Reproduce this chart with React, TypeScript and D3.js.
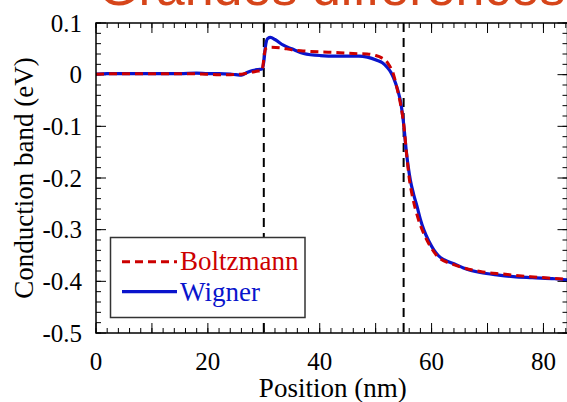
import React from "react";
import * as d3 from "d3";

const W = 567;
const H = 402;

const titleText = "Grandes différences";
const xLabel = "Position (nm)";
const yLabel = "Conduction band (eV)";

const xTickLabels = [0, 20, 40, 60, 80];
const yTickLabels = [0.1, 0, -0.1, -0.2, -0.3, -0.4, -0.5];
const barrierPositions = [30, 55];

const seriesNames = ["Boltzmann", "Wigner"];

const wignerX = [0, 2, 5, 10, 15, 18, 20, 22, 24, 25, 26, 27, 28, 29, 29.7, 30.0, 30.3, 30.7, 31.2, 32.0, 33.5, 35.0, 37.1, 40.1, 43, 45.5, 47, 48.5, 50.2, 51.2, 52.0, 52.7, 53.2, 53.9, 54.5, 55.0, 55.5, 56.2, 56.8, 57.4, 58.0, 58.6, 59.5, 60.4, 61.2, 62.2, 64.0, 65.7, 68.7, 72.0, 74.6, 78.0, 82.0, 84.3];
const wignerY = [0.001, 0.002, 0.002, 0.002, 0.002, 0.003, 0.002, 0.002, 0.001, 0.0, -0.001, 0.004, 0.008, 0.010, 0.011, 0.025, 0.055, 0.070, 0.072, 0.068, 0.057, 0.050, 0.041, 0.037, 0.036, 0.036, 0.036, 0.034, 0.028, 0.023, 0.015, 0.005, -0.006, -0.028, -0.055, -0.095, -0.150, -0.204, -0.232, -0.255, -0.280, -0.300, -0.322, -0.339, -0.350, -0.358, -0.366, -0.374, -0.383, -0.388, -0.391, -0.393, -0.395, -0.397];

const boltzX = [0, 5, 10, 15, 20, 22, 24, 26, 27, 28, 29, 29.7, 30.0, 30.3, 31, 33, 35, 37, 40, 43, 46, 48.5, 50, 51, 52.2, 53.2, 53.9, 54.5, 55.0, 55.5, 56.0, 56.7, 57.5, 58.7, 59.6, 61.1, 64.1, 68.7, 72.8, 77.7, 84.3];
const boltzY = [0.001, 0.002, 0.002, 0.002, 0.001, 0.0, 0.0, 0.001, 0.003, 0.005, 0.007, 0.008, 0.030, 0.050, 0.053, 0.052, 0.048, 0.046, 0.044, 0.043, 0.041, 0.040, 0.037, 0.033, 0.022, 0.0, -0.030, -0.060, -0.095, -0.150, -0.200, -0.242, -0.275, -0.310, -0.329, -0.352, -0.368, -0.381, -0.386, -0.391, -0.396];

const plot = { left: 96, right: 567.5, top: 23, bottom: 333 };

export default function App() {
  const x = d3.scaleLinear().domain([0, 84.3]).range([plot.left, plot.right]);
  const y = d3.scaleLinear().domain([-0.5, 0.1]).range([plot.bottom, plot.top]);

  const line = d3
    .line<[number, number]>()
    .x((d) => x(d[0]))
    .y((d) => y(d[1]))
    .curve(d3.curveMonotoneX);

  const wigner: [number, number][] = wignerX.map((v, i) => [v, wignerY[i]]);
  const boltz: [number, number][] = boltzX.map((v, i) => [v, boltzY[i]]);

  const xMinor = d3.range(0, 84.3, 2);
  const xMajor = d3.range(0, 84.3, 10);
  const yMinor = d3.range(-0.5, 0.1001, 0.02);
  const yMajor = d3.range(-0.5, 0.1001, 0.1);

  const serifStyle = { fontFamily: "Liberation Serif, Tinos, Times New Roman, DejaVu Serif, serif" };
  const tickColor = "#000";

  return (
    <svg width={W} height={H} style={{ position: "absolute", left: 0, top: 0 }}>
      <rect x={0} y={0} width={W} height={H} fill="#fff" />
      <text
        x={98}
        y={5}
        style={{ fontFamily: "Liberation Sans, Arimo, Arial, sans-serif" }}
        fontSize={52}
        fill="#d6451a"
      >
        {titleText}
      </text>

      <clipPath id="plotclip">
        <rect x={plot.left} y={plot.top} width={plot.right - plot.left} height={plot.bottom - plot.top} />
      </clipPath>

      <g stroke={tickColor} strokeWidth={1}>
        {xMinor.map((v) => (
          <g key={"xm" + v}>
            <line x1={x(v)} x2={x(v)} y1={plot.bottom} y2={plot.bottom - 5} />
            <line x1={x(v)} x2={x(v)} y1={plot.top} y2={plot.top + 5} />
          </g>
        ))}
        {xMajor.map((v) => (
          <g key={"xM" + v}>
            <line x1={x(v)} x2={x(v)} y1={plot.bottom} y2={plot.bottom - 10} />
            <line x1={x(v)} x2={x(v)} y1={plot.top} y2={plot.top + 10} />
          </g>
        ))}
        {yMinor.map((v, i) => (
          <g key={"ym" + i}>
            <line x1={plot.left} x2={plot.left + 5} y1={y(v)} y2={y(v)} />
            <line x1={plot.right} x2={plot.right - 5} y1={y(v)} y2={y(v)} />
          </g>
        ))}
        {yMajor.map((v, i) => (
          <g key={"yM" + i}>
            <line x1={plot.left} x2={plot.left + 10} y1={y(v)} y2={y(v)} />
            <line x1={plot.right} x2={plot.right - 10} y1={y(v)} y2={y(v)} />
          </g>
        ))}
      </g>

      {barrierPositions.map((p) => (
        <line
          key={"b" + p}
          x1={x(p)}
          x2={x(p)}
          y1={plot.top}
          y2={plot.bottom}
          stroke="#000"
          strokeWidth={2}
          strokeDasharray="9,6"
        />
      ))}

      <g clipPath="url(#plotclip)">
        <path d={line(wigner) || ""} fill="none" stroke="#0a14cc" strokeWidth={3.2} strokeLinejoin="round" />
        <path d={line(boltz) || ""} fill="none" stroke="#cc0000" strokeWidth={3} strokeDasharray="8,5" />
      </g>

      <rect
        x={plot.left}
        y={plot.top}
        width={plot.right - plot.left}
        height={plot.bottom - plot.top}
        fill="none"
        stroke="#000"
        strokeWidth={1.5}
      />

      {xTickLabels.map((v) => (
        <text key={"xl" + v} x={x(v)} y={370} textAnchor="middle" style={serifStyle} fontSize={25} fill="#000">
          {v}
        </text>
      ))}
      {yTickLabels.map((v) => (
        <text key={"yl" + v} x={82} y={y(v)} dy="0.35em" textAnchor="end" style={serifStyle} fontSize={25} fill="#000">
          {v === 0 ? "0" : String(v)}
        </text>
      ))}

      <text x={(plot.left + plot.right) / 2 + 1} y={397} textAnchor="middle" style={serifStyle} fontSize={27} fill="#000">
        {xLabel}
      </text>
      <text
        transform={`translate(33, ${(plot.top + plot.bottom) / 2}) rotate(-90)`}
        textAnchor="middle"
        style={serifStyle}
        fontSize={27}
        fill="#000"
      >
        {yLabel}
      </text>

      <g>
        <rect x={110.5} y={237.5} width={194.5} height={80} fill="#fff" stroke="#333" strokeWidth={1.5} />
        <line x1={122} x2={177} y1={261.7} y2={261.7} stroke="#cc0000" strokeWidth={3} strokeDasharray="8,5" />
        <text x={180} y={270} style={serifStyle} fontSize={27} fill="#cc0000">
          {seriesNames[0]}
        </text>
        <line x1={122} x2={177} y1={291.7} y2={291.7} stroke="#0a14cc" strokeWidth={3.2} />
        <text x={180} y={301} style={serifStyle} fontSize={27} fill="#0a14cc">
          {seriesNames[1]}
        </text>
      </g>
    </svg>
  );
}
